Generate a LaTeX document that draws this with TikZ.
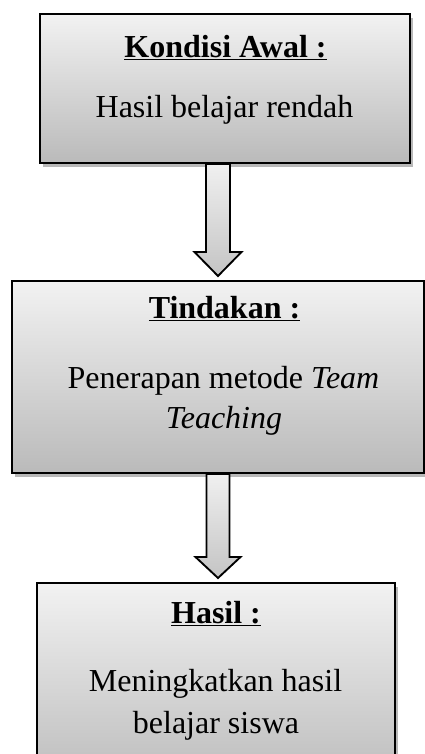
\documentclass[tikz,border=0pt]{standalone}
\usepackage{fontspec}
\setmainfont{Liberation Serif}
\usetikzlibrary{shadows,calc}
\definecolor{shadetop}{RGB}{242,242,242}
\definecolor{shadebot}{RGB}{186,186,186}
\definecolor{arrtop}{RGB}{240,240,240}
\definecolor{arrbot}{RGB}{196,196,196}
\tikzset{
  flowbox/.style={draw=black, line width=1.5pt, rectangle, top color=shadetop, bottom color=shadebot,
    drop shadow={shadow xshift=2.2pt, shadow yshift=-2.8pt, opacity=0.28, fill=black}},
  titletext/.style={anchor=base, font=\fontsize{24}{30}\selectfont\bfseries, inner sep=0pt},
  bodytext/.style={anchor=base, font=\fontsize{24}{30}\selectfont, inner sep=0pt},
  blockarrow/.style={draw=black, line width=1.4pt, line join=miter, top color=arrtop, bottom color=arrbot}
}
\begin{document}
\begin{tikzpicture}[x=0.75pt, y=-0.75pt]
\useasboundingbox (0,0) rectangle (425,754);
\clip (0,0) rectangle (425,754);
% boxes
\node[flowbox, minimum width=277.5pt, minimum height=111.75pt] (boxA) at (225,88.5) {};
\node[flowbox, minimum width=309pt, minimum height=144pt] (boxB) at (218,377) {};
\node[flowbox, minimum width=268.5pt, minimum height=155.25pt] (boxC) at (216,686.5) {};
% texts
\node[titletext] (tA) at (225.5,57) {\underline{Kondisi Awal :}};
\node[bodytext] (bA) at (224.5,117) {Hasil belajar rendah};
\node[titletext] (tB) at (224.5,318) {\underline{Tindakan :}};
\node[bodytext] (bB1) at (223.5,388) {Penerapan metode \textit{Team}};
\node[bodytext] (bB2) at (224,428) {\textit{Teaching}};
\node[titletext] (tC) at (216,623) {\underline{Hasil :}};
\node[bodytext] (bC1) at (215.5,691) {Meningkatkan hasil};
\node[bodytext] (bC2) at (216,733) {belajar siswa};
% arrows
\coordinate (s1) at (boxA.south -| boxB.north);
\coordinate (e1) at ($(boxB.north)+(0,-4)$);
\path[blockarrow] ($(s1)+(-12,0)$) -- ($(e1)+(-12,-24)$) -- ($(e1)+(-23.5,-24)$) -- (e1)
  -- ($(e1)+(23.5,-24)$) -- ($(e1)+(12,-24)$) -- ($(s1)+(12,0)$) -- cycle;
\coordinate (s2) at (boxB.south);
\coordinate (e2) at ($(boxB.south |- boxC.north)+(0,-4)$);
\path[blockarrow] ($(s2)+(-11.5,0)$) -- ($(e2)+(-11.5,-21)$) -- ($(e2)+(-22.5,-21)$) -- (e2)
  -- ($(e2)+(22.5,-21)$) -- ($(e2)+(11.5,-21)$) -- ($(s2)+(11.5,0)$) -- cycle;
\end{tikzpicture}
\end{document}
